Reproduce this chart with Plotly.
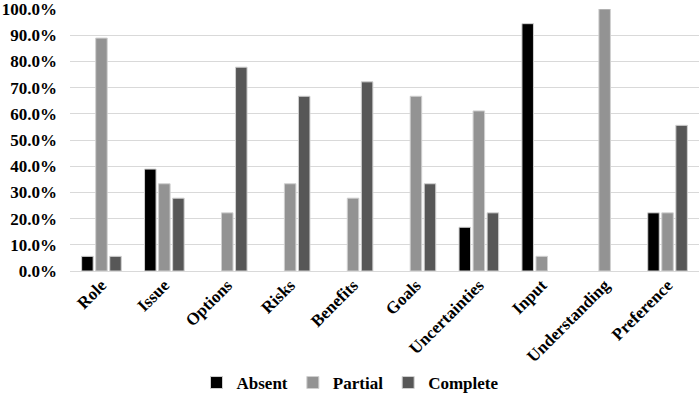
import plotly.graph_objects as go

categories = ["Role", "Issue", "Options", "Risks", "Benefits", "Goals",
              "Uncertainties", "Input", "Understanding", "Preference"]
absent = [5.6, 38.9, 0, 0, 0, 0, 16.7, 94.4, 0, 22.2]
partial = [88.9, 33.3, 22.2, 33.3, 27.8, 66.7, 61.1, 5.6, 100.0, 22.2]
complete = [5.6, 27.8, 77.8, 66.7, 72.2, 33.3, 22.2, 0, 0, 55.6]
series_names = ["Absent", "Partial", "Complete"]
colors = ["#000000", "#939393", "#575757"]
y_ticks = [0, 10, 20, 30, 40, 50, 60, 70, 80, 90, 100]

font_family = "Liberation Serif, Times New Roman, serif"

fig = go.Figure()
for name, vals, col in zip(series_names, [absent, partial, complete], colors):
    fig.add_trace(go.Bar(
        x=categories, y=vals, name=name,
        marker=dict(color=col,
                    line=dict(color="#d0d0d0",
                              width=[1 if v > 0 else 0 for v in vals])),
    ))

fig.update_layout(
    width=700, height=394,
    margin=dict(l=70, r=1, t=9, b=123),
    paper_bgcolor="white", plot_bgcolor="white",
    barmode="group", bargap=0.33, bargroupgap=0.18,
    font=dict(family=font_family, size=17, color="#000000"),
    showlegend=True,
    legend=dict(orientation="h", xref="container", x=0.5, xanchor="center",
                yref="container", y=0.028, yanchor="middle",
                font=dict(family=font_family, size=17, color="#000000", weight="bold"),
                itemwidth=30, traceorder="normal", tracegroupgap=0),
    xaxis=dict(tickangle=-45, showgrid=False, showline=False, ticks="",
               automargin=False,
               tickfont=dict(family=font_family, size=17, weight="bold")),
    yaxis=dict(range=[0, 100], tickvals=y_ticks,
               ticktext=[f"{v:.1f}%" for v in y_ticks],
               showgrid=True, gridcolor="#d9d9d9", gridwidth=1,
               zeroline=True, zerolinecolor="#d9d9d9", zerolinewidth=1,
               ticks="", automargin=False, ticklabeloverflow="allow",
               ticklabelstandoff=12,
               tickfont=dict(family=font_family, size=17, weight="bold")),
)

fig.write_html("out.html", config={"displayModeBar": False},
               post_script="document.body.style.margin='0';document.body.style.padding='0';")
